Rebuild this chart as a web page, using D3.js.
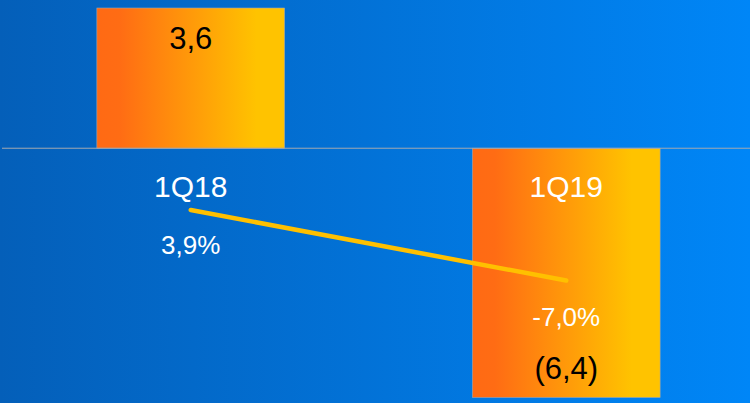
<!DOCTYPE html>
<html>
<head>
<meta charset="utf-8">
<script src="https://cdn.jsdelivr.net/npm/d3@7"></script>
<style>
  html, body { margin: 0; padding: 0; overflow: hidden; }
  svg { display: block; font-family: "Liberation Sans", Arial, sans-serif; }
</style>
</head>
<body>
<svg id="chart" width="750" height="403"></svg>
<script>
// chart data
const quarters = ["1Q18", "1Q19"];
const values = [3.6, -6.4];
const valueLabels = ["3,6", "(6,4)"];
const growth = [3.9, -7.0];
const growthLabels = ["3,9%", "-7,0%"];

const width = 750, height = 403;
const svg = d3.select("#chart");
const defs = svg.append("defs");

// background gradient
const bg = defs.append("linearGradient").attr("id", "bg")
    .attr("x1", "0%").attr("x2", "100%").attr("y1", "0%").attr("y2", "0%");
bg.append("stop").attr("offset", "0%").attr("stop-color", "#045fb9");
bg.append("stop").attr("offset", "100%").attr("stop-color", "#0086f7");

// bar gradient orange -> yellow
const bar = defs.append("linearGradient").attr("id", "bar")
    .attr("x1", "0%").attr("x2", "100%").attr("y1", "0%").attr("y2", "0%");
bar.append("stop").attr("offset", "0%").attr("stop-color", "#ff6a14");
bar.append("stop").attr("offset", "12%").attr("stop-color", "#ff6c14");
bar.append("stop").attr("offset", "85%").attr("stop-color", "#ffc300");
bar.append("stop").attr("offset", "100%").attr("stop-color", "#ffc300");

svg.append("rect").attr("width", width).attr("height", height).attr("fill", "url(#bg)");

// scales
const x = d3.scaleBand()
    .domain(quarters)
    .range([3, 754])
    .paddingInner(0.5)
    .paddingOuter(0.25);

const y = d3.scaleLinear()
    .domain([3.6, -6.4])
    .range([8, 397.5]);

const yLine = d3.scaleLinear()
    .domain([3.9, -7.0])
    .range([210, 280.5]);

// bars
svg.selectAll(".bar")
    .data(values)
    .enter()
    .append("rect")
    .attr("class", "bar")
    .attr("x", (d, i) => x(quarters[i]))
    .attr("width", x.bandwidth())
    .attr("y", d => y(Math.max(0, d)))
    .attr("height", d => Math.abs(y(d) - y(0)))
    .attr("fill", "url(#bar)")
    .attr("stroke", "#9aa6b4")
    .attr("stroke-width", 0.6);

// zero line
svg.append("line")
    .attr("x1", 2).attr("x2", width)
    .attr("y1", y(0)).attr("y2", y(0))
    .attr("stroke", "#a4a9b0")
    .attr("stroke-width", 1);

// growth line
const cx = q => x(q) + x.bandwidth() / 2;
svg.append("path")
    .datum(growth)
    .attr("fill", "none")
    .attr("stroke", "#ffc000")
    .attr("stroke-width", 4.5)
    .attr("stroke-linecap", "round")
    .attr("d", d3.line()
        .x((d, i) => cx(quarters[i]))
        .y(d => yLine(d)));

// category labels
svg.selectAll(".cat")
    .data(quarters)
    .enter()
    .append("text")
    .attr("class", "cat")
    .attr("x", d => cx(d))
    .attr("y", 197)
    .attr("text-anchor", "middle")
    .attr("fill", "#ffffff")
    .style("font-size", "30px")
    .text(d => d);

// growth labels
svg.selectAll(".pct")
    .data(growth)
    .enter()
    .append("text")
    .attr("class", "pct")
    .attr("x", (d, i) => cx(quarters[i]))
    .attr("y", d => d >= 0 ? yLine(d) + 44 : yLine(d) + 45)
    .attr("text-anchor", "middle")
    .attr("fill", "#ffffff")
    .style("font-size", "26px")
    .text((d, i) => growthLabels[i]);

// value labels
svg.selectAll(".val")
    .data(values)
    .enter()
    .append("text")
    .attr("class", "val")
    .attr("x", (d, i) => cx(quarters[i]))
    .attr("y", d => d >= 0 ? y(d) + 41 : y(d) - 19)
    .attr("text-anchor", "middle")
    .attr("fill", "#000000")
    .style("font-size", "31px")
    .text((d, i) => valueLabels[i]);
</script>
</body>
</html>
